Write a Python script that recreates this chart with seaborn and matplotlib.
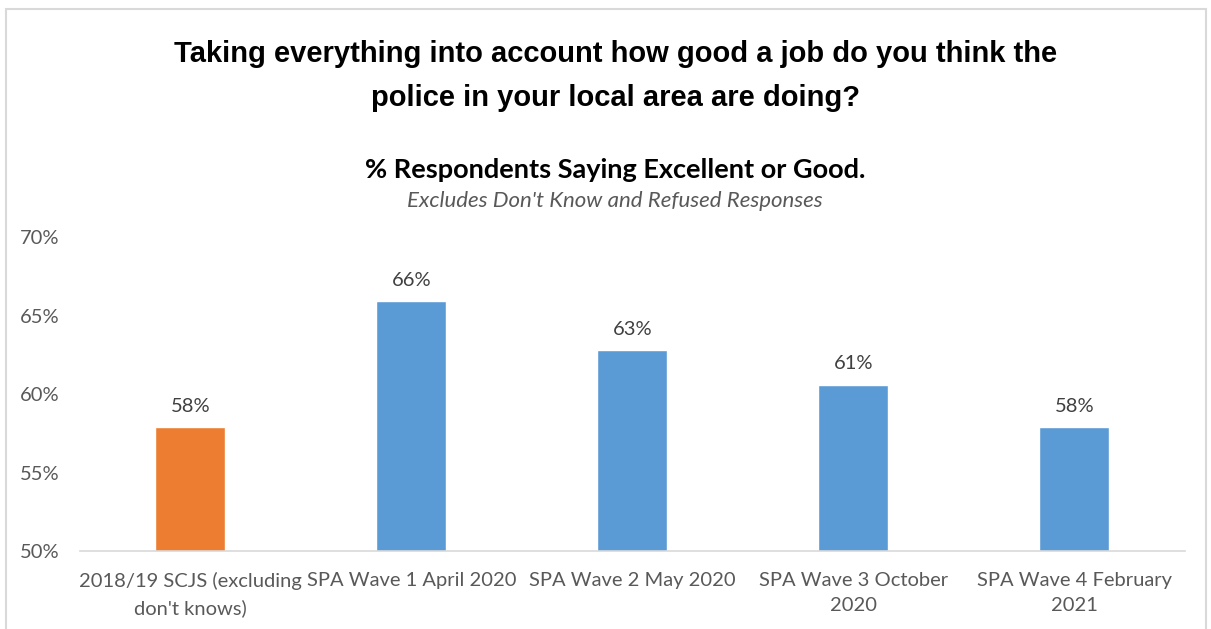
import matplotlib
matplotlib.use("Agg")
import matplotlib.pyplot as plt
import seaborn as sns
import pandas as pd
from matplotlib.patches import Rectangle
from matplotlib.ticker import FuncFormatter

# Survey waves and share of respondents rating the police excellent or good
categories = [
    "2018/19 SCJS (excluding\ndon't knows)",
    "SPA Wave 1 April 2020",
    "SPA Wave 2 May 2020",
    "SPA Wave 3 October\n2020",
    "SPA Wave 4 February\n2021",
]
values = [57.9, 65.9, 62.8, 60.6, 57.9]
bar_colors = ["#ED7D31", "#5B9BD5", "#5B9BD5", "#5B9BD5", "#5B9BD5"]
y_ticks = [50, 55, 60, 65, 70]

title = "Taking everything into account how good a job do you think the\npolice in your local area are doing?"
subtitle = "% Respondents Saying Excellent or Good."
note = "Excludes Don't Know and Refused Responses"

sns.set_theme(style="white")
body_font = ["Lato", "DejaVu Sans"]
plt.rcParams["font.family"] = body_font

df = pd.DataFrame({"category": categories, "value": values})

fig = plt.figure(figsize=(12.11, 6.29), dpi=100)
ax = fig.add_axes([0.066, 0.124, 0.9125, 0.499])

sns.barplot(data=df, x="category", y="value", hue="category",
            palette=bar_colors, legend=False, width=0.317, ax=ax,
            saturation=1)

ax.set_ylim(50, 70)
ax.set_yticks(y_ticks)
ax.yaxis.set_major_formatter(FuncFormatter(lambda v, _: f"{v:.0f}%"))
ax.set_xlim(-0.5, len(categories) - 0.5)
ax.set_xlabel("")
ax.set_ylabel("")

for side in ["top", "right", "left"]:
    ax.spines[side].set_visible(False)
ax.spines["bottom"].set_color("#D9D9D9")
ax.spines["bottom"].set_linewidth(1.2)

ax.tick_params(axis="y", length=0, pad=14.5, labelsize=14.5, labelcolor="#595959")
ax.tick_params(axis="x", length=0, pad=15, labelsize=14.5, labelcolor="#595959")
for lbl in ax.get_xticklabels():
    lbl.set_linespacing(1.6)

# value labels above each bar
for i, v in enumerate(values):
    ax.annotate(f"{v:.0f}%", xy=(i, v), xytext=(0, 9), textcoords="offset points",
                ha="center", va="bottom", fontsize=14.5, color="#404040")

# titles
fig.text(0.508, 0.879, title, ha="center", va="center", fontsize=21,
         fontweight="bold", family=["Liberation Sans", "DejaVu Sans"],
         color="black", linespacing=1.75)
fig.text(0.508, 0.729, subtitle, ha="center", va="center", fontsize=19.5,
         fontweight="bold", family=body_font, color="black")
fig.text(0.508, 0.68, note, ha="center", va="center", fontsize=16,
         style="italic", family=body_font, color="#595959")

# chart-area border
fig.patches.append(Rectangle((6 / 1211, -0.05), 1200 / 1211, 1.05 - 9 / 629,
                             transform=fig.transFigure, fill=False,
                             edgecolor="#D9D9D9", linewidth=1.5))

fig.savefig("out.png", dpi=100, facecolor="white")
